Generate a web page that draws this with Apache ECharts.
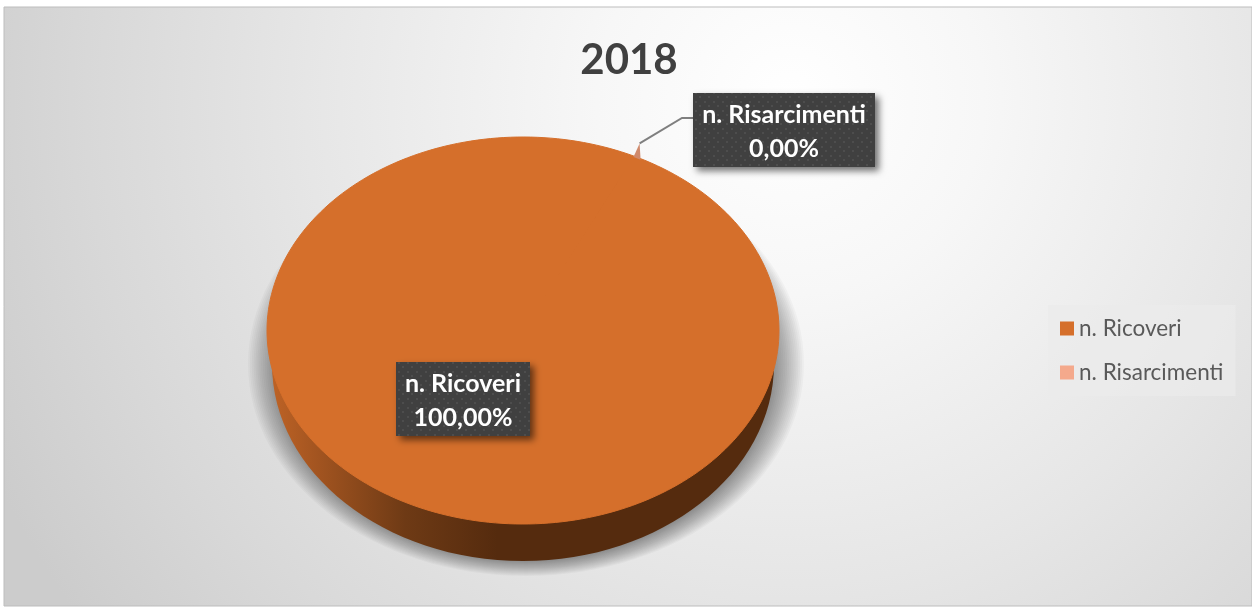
<!DOCTYPE html>
<html><head><meta charset="utf-8">
<style>html,body{margin:0;padding:0;background:#fff}#c{width:1252px;height:610px}</style>
<script src="https://cdn.jsdelivr.net/npm/echarts@6/dist/echarts.min.js"></script>
</head><body><div id="c"></div>
<script>
const titleText = '2018';
const categories = ['n. Ricoveri', 'n. Risarcimenti'];
const values = [99.996, 0.004];
const colors = ['#D56F2B', '#F4A98C'];

const chart = echarts.init(document.getElementById('c'));
const CX = 523, CY = 330.5, RX = 256, RY = 193.5;
const total = values.reduce((a, b) => a + b, 0);
const MIN_ANGLE = 1.8 * Math.PI / 180;
// slice 2 is centred at this clockwise angle from 12 o'clock
const SLICE_ANGLE = 26.6 * Math.PI / 180;
const pct = v => (v / total * 100).toFixed(2).replace('.', ',') + '%';
const pt = (a, k = 1) => [CX + RX * k * Math.sin(a), CY - RY * k * Math.cos(a)];

function dotPattern() {
  const s = 9, c = document.createElement('canvas');
  c.width = c.height = s;
  const g = c.getContext('2d');
  g.fillStyle = '#404040'; g.fillRect(0, 0, s, s);
  g.fillStyle = '#4d4d4d';
  g.fillRect(2, 2, 2, 2); g.fillRect(6, 6, 2, 2);
  return c;
}
const pattern = { image: dotPattern(), repeat: 'repeat' };

function labelBox(x, y, w, h, name, val) {
  const font = 'bold 25px Lato, "Open Sans", sans-serif';
  return [
    { type: 'rect', z2: 20, shape: { x, y, width: w, height: h },
      style: { fill: pattern, shadowBlur: 7, shadowColor: 'rgba(0,0,0,0.55)', shadowOffsetX: 4, shadowOffsetY: 4 } },
    { type: 'text', z2: 21, style: { x: x + w / 2, y: y + h * 0.30, text: name, fill: '#fff',
      font, align: 'center', verticalAlign: 'middle' } },
    { type: 'text', z2: 21, style: { x: x + w / 2, y: y + h * 0.75, text: val, fill: '#fff',
      font, align: 'center', verticalAlign: 'middle' } }
  ];
}

function softShadow() {
  // nested translucent ellipses give the wide, soft drop shadow under the pie
  const layers = [], n = 16;
  for (let i = 0; i < n; i++) {
    const t = 1 - i / (n - 1);
    layers.push({ type: 'ellipse', z2: 1, shape: { cx: CX + 3, cy: 364, rx: 250 + 28 * t, ry: 197 + 15 * t },
      style: { fill: 'rgba(0,0,0,0.027)', shadowBlur: 4, shadowColor: 'rgba(0,0,0,0.02)' } });
  }
  return layers;
}

function renderMain(params, api) {
  const span = Math.max(api.value(0) / total * 2 * Math.PI, 0);
  const end = SLICE_ANGLE - MIN_ANGLE / 2;
  const start = end - span;
  const top = [[CX, CY]];
  for (let i = 0; i <= 240; i++) top.push(pt(start + (end - start) * i / 240));
  const wallEl = { type: 'ellipse', z2: 2, shape: { cx: CX, cy: 364, rx: RX - 5, ry: 197 }, style: {
    fill: { type: 'linear', x: CX - RX, y: 0, x2: CX + RX, y2: 0, global: true, colorStops: [
      { offset: 0, color: '#C06426' }, { offset: 0.1, color: '#A25420' }, { offset: 0.27, color: '#6E3A15' },
      { offset: 0.45, color: '#552B0E' }, { offset: 1, color: '#552B0E' }] } } };
  const face = { type: 'polygon', z2: 4, shape: { points: top },
    style: { fill: colors[0], stroke: colors[0], lineWidth: 1 } };
  return { type: 'group', children: [...softShadow(), wallEl, face,
    ...labelBox(396, 362, 134, 74, categories[0], pct(values[0]))] };
}

function renderSliver(params, api) {
  const a = SLICE_ANGLE;
  const half = Math.max(api.value(0) / total * Math.PI, MIN_ANGLE / 2);
  const base = pt(a);
  const tip = [base[0] + 2, base[1] - 14];
  const line = [tip, [682, 118], [693, 118]];
  return { type: 'group', children: [
    { type: 'polygon', z2: 5, shape: { points: [pt(a - half * 1.0, 0.995), tip, pt(a + half * 1.0, 0.995)] },
      style: { fill: '#D08A6C' } },
    { type: 'polyline', z2: 6, shape: { points: line }, style: { stroke: '#7f7f7f', lineWidth: 2, fill: 'none' } },
    ...labelBox(693, 93, 182, 74, categories[1], pct(values[1]))] };
}

chart.setOption({
  animation: false,
  title: { text: titleText, left: 624, top: 34, textAlign: 'center',
    textStyle: { fontFamily: 'Lato, "Open Sans", sans-serif', fontWeight: 'bold', fontSize: 42, color: '#404040' } },
  legend: { orient: 'vertical', left: 1048, top: 305, itemWidth: 14, itemHeight: 14, itemGap: 21,
    padding: [12, 12, 12, 12], backgroundColor: 'rgba(235,235,235,0.7)', icon: 'rect', selectedMode: false,
    textStyle: { fontFamily: 'Lato, "Open Sans", sans-serif', fontSize: 22.5, color: '#595959', padding: [0, 0, 0, 0] },
    data: categories },
  graphic: [{ type: 'rect', z: -1, silent: true, shape: { x: 4, y: 7, width: 1248, height: 599 },
    style: { stroke: '#bdbdbd', lineWidth: 1, fill: { type: 'radial', x: 790, y: 100, r: 880, global: true, colorStops: [
      { offset: 0, color: '#ffffff' }, { offset: 0.22, color: '#f7f7f7' }, { offset: 0.55, color: '#e6e6e6' },
      { offset: 0.8, color: '#d8d8d8' }, { offset: 1, color: '#cccccc' }] } } }],
  series: [
    { type: 'custom', name: categories[0], coordinateSystem: 'none', renderItem: renderMain, itemStyle: { color: colors[0] }, data: [[values[0]]], z: 2 },
    { type: 'custom', name: categories[1], coordinateSystem: 'none', renderItem: renderSliver, itemStyle: { color: colors[1] }, data: [[values[1]]], z: 3 }
  ]
});
</script></body></html>
